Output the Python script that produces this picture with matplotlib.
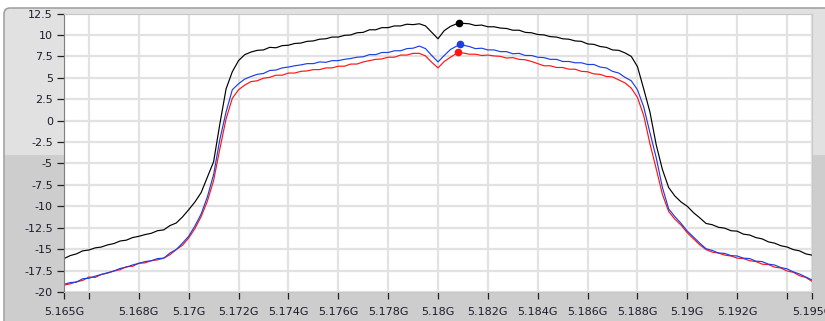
import numpy as np
import matplotlib.pyplot as plt
from matplotlib.patches import FancyBboxPatch, Rectangle

plt.rcParams['axes.unicode_minus'] = False

# sample grid of the analyser trace, 5.165 GHz .. 5.195 GHz every 0.25 MHz
freq = np.linspace(5.165e9, 5.195e9, 121)

black_db = [
    -16.1, -15.75, -15.55, -15.2, -15.1, -14.85, -14.75, -14.5, -14.35, -14.05,
    -13.95, -13.65, -13.5, -13.3, -13.15, -12.85, -12.75, -12.25, -11.95, -11.25,
    -10.4, -9.5, -8.4, -6.6, -4.8, -0.4, 3.7, 5.7, 7.0, 7.7,
    8.0, 8.2, 8.25, 8.55, 8.5, 8.75, 8.8, 9.0, 9.05, 9.25,
    9.3, 9.5, 9.55, 9.75, 9.75, 9.95, 10.0, 10.25, 10.3, 10.6,
    10.6, 10.85, 10.85, 11.05, 11.05, 11.25, 11.2, 11.3, 11.05, 10.3,
    9.55, 10.5, 11.0, 11.3, 11.35, 11.3, 11.1, 11.15, 10.95, 10.95,
    10.8, 10.75, 10.55, 10.55, 10.3, 10.25, 10.05, 10.0, 9.8, 9.75,
    9.55, 9.5, 9.3, 9.25, 8.95, 8.9, 8.65, 8.55, 8.25, 8.2,
    7.9, 7.5, 6.3, 3.7, 1.0, -2.8, -5.7, -7.8, -8.8, -9.5,
    -10.0, -10.75, -11.35, -12.0, -12.15, -12.45, -12.55, -12.85, -12.9, -13.25,
    -13.35, -13.65, -13.8, -14.15, -14.3, -14.6, -14.75, -15.05, -15.2, -15.55,
    -15.7,
]

blue_db = [
    -19.1, -18.9, -18.85, -18.45, -18.4, -18.15, -17.95, -17.75, -17.55, -17.25,
    -17.1, -16.85, -16.65, -16.45, -16.35, -16.1, -16.05, -15.45, -15.05, -14.3,
    -13.5, -12.3, -10.9, -8.9, -6.3, -2.2, 1.0, 3.6, 4.3, 4.85,
    5.15, 5.4, 5.5, 5.85, 5.9, 6.15, 6.25, 6.4, 6.5, 6.65,
    6.65, 6.85, 6.8, 7.0, 7.0, 7.15, 7.25, 7.4, 7.45, 7.7,
    7.7, 7.95, 7.95, 8.15, 8.15, 8.4, 8.45, 8.7, 8.4, 7.6,
    6.85, 7.6, 8.3, 8.7, 8.8, 8.65, 8.4, 8.45, 8.25, 8.25,
    8.05, 8.05, 7.8, 7.85, 7.6, 7.6, 7.4, 7.35, 7.15, 7.15,
    6.9, 6.9, 6.75, 6.75, 6.55, 6.55, 6.25, 6.15, 5.75, 5.55,
    5.05, 4.65, 3.6, 1.6, -1.4, -4.3, -7.8, -10.3, -11.2, -12.0,
    -12.9, -13.6, -14.3, -14.95, -15.15, -15.45, -15.5, -15.75, -15.8, -16.05,
    -16.1, -16.4, -16.45, -16.75, -16.85, -17.15, -17.3, -17.65, -17.9, -18.25,
    -18.6,
]

red_db = [
    -19.2, -19.05, -18.8, -18.65, -18.25, -18.3, -17.95, -17.8, -17.55, -17.4,
    -17.05, -17.0, -16.65, -16.6, -16.35, -16.25, -16.05, -15.65, -15.05, -14.55,
    -13.7, -12.6, -11.2, -9.4, -7.0, -3.3, 0.2, 2.6, 3.6, 4.15,
    4.55, 4.65, 4.95, 5.05, 5.3, 5.3, 5.55, 5.55, 5.75, 5.8,
    5.95, 5.95, 6.15, 6.15, 6.35, 6.35, 6.6, 6.6, 6.85, 7.0,
    7.15, 7.2, 7.4, 7.4, 7.65, 7.65, 7.85, 7.85, 7.55, 6.8,
    6.15, 6.9, 7.4, 7.85, 7.9, 7.75, 7.75, 7.6, 7.65, 7.55,
    7.5, 7.3, 7.35, 7.15, 7.1, 6.9, 6.65, 6.4, 6.4, 6.2,
    6.2, 6.0, 6.0, 5.75, 5.7, 5.45, 5.4, 5.15, 5.1, 4.75,
    4.4, 3.8, 2.7, 0.6, -2.7, -5.6, -8.6, -10.6, -11.5, -12.2,
    -13.1, -13.8, -14.5, -15.05, -15.35, -15.45, -15.7, -15.8, -16.05, -16.1,
    -16.35, -16.45, -16.75, -16.8, -17.1, -17.2, -17.55, -17.7, -18.1, -18.3,
    -18.75,
]

# peak cursors
marker_freq = [5.18084e9, 5.18088e9, 5.18082e9]
marker_db = [11.4, 8.95, 8.0]
trace_colors = ['#000000', '#1c3fe0', '#ff1414']

xtick_pos = [5.165e9, 5.166e9, 5.168e9, 5.170e9, 5.172e9, 5.174e9, 5.176e9, 5.178e9,
             5.180e9, 5.182e9, 5.184e9, 5.186e9, 5.188e9, 5.190e9, 5.192e9, 5.194e9, 5.195e9]
xtick_labels = ['5.165G', '', '5.168G', '5.17G', '5.172G', '5.174G', '5.176G', '5.178G',
                '5.18G', '5.182G', '5.184G', '5.186G', '5.188G', '5.19G', '5.192G', '', '5.195G']
ytick_pos = [-20, -17.5, -15, -12.5, -10, -7.5, -5, -2.5, 0, 2.5, 5, 7.5, 10, 12.5]

fig = plt.figure(figsize=(8.25, 3.21), dpi=100, facecolor='white')

# panel background (light upper half, darker lower half, rounded frame)
frame = FancyBboxPatch((0.04, -0.5), 9.0, 3.17 + 0.5 - 0.04,
                       boxstyle='round,pad=0,rounding_size=0.06',
                       transform=fig.dpi_scale_trans, facecolor='#e1e1e1',
                       edgecolor='#9c9c9c', linewidth=1.1, zorder=-3)
fig.patches.append(frame)
lower = Rectangle((0.05, 0.0), 9.0, 1.66, transform=fig.dpi_scale_trans,
                  facecolor='#cdcdcd', edgecolor='none', zorder=-2)
fig.patches.append(lower)

ax = fig.add_axes([64 / 825, (321 - 292) / 321, 748 / 825, 278.5 / 321])
ax.set_facecolor('white')

ax.plot(freq, black_db, color=trace_colors[0], lw=0.85)
ax.plot(freq, red_db, color=trace_colors[2], lw=0.85)
ax.plot(freq, blue_db, color=trace_colors[1], lw=0.85)
for f, v, c in zip(marker_freq, marker_db, trace_colors):
    ax.plot([f], [v], 'o', color=c, ms=4.5, zorder=5)

ax.set_xlim(5.165e9, 5.195e9)
ax.set_ylim(-20, 12.5)
ax.set_xticks(xtick_pos)
ax.set_xticklabels(xtick_labels)
ax.set_yticks(ytick_pos)
ax.set_yticklabels(['{:g}'.format(v) for v in ytick_pos])
ax.grid(True, color='#e2e2e2', lw=1.6)
ax.set_axisbelow(True)
ax.tick_params(axis='both', direction='out', length=5, width=0.9, color='#202020',
               labelsize=8, labelcolor='#1c1c2c', pad=3)
ax.tick_params(axis='x', pad=6)
for s in ax.spines.values():
    s.set_color('#c8c8c8')
    s.set_linewidth(0.8)
ax.spines['left'].set_color('#808080')

fig.savefig('out.png', dpi=100)
